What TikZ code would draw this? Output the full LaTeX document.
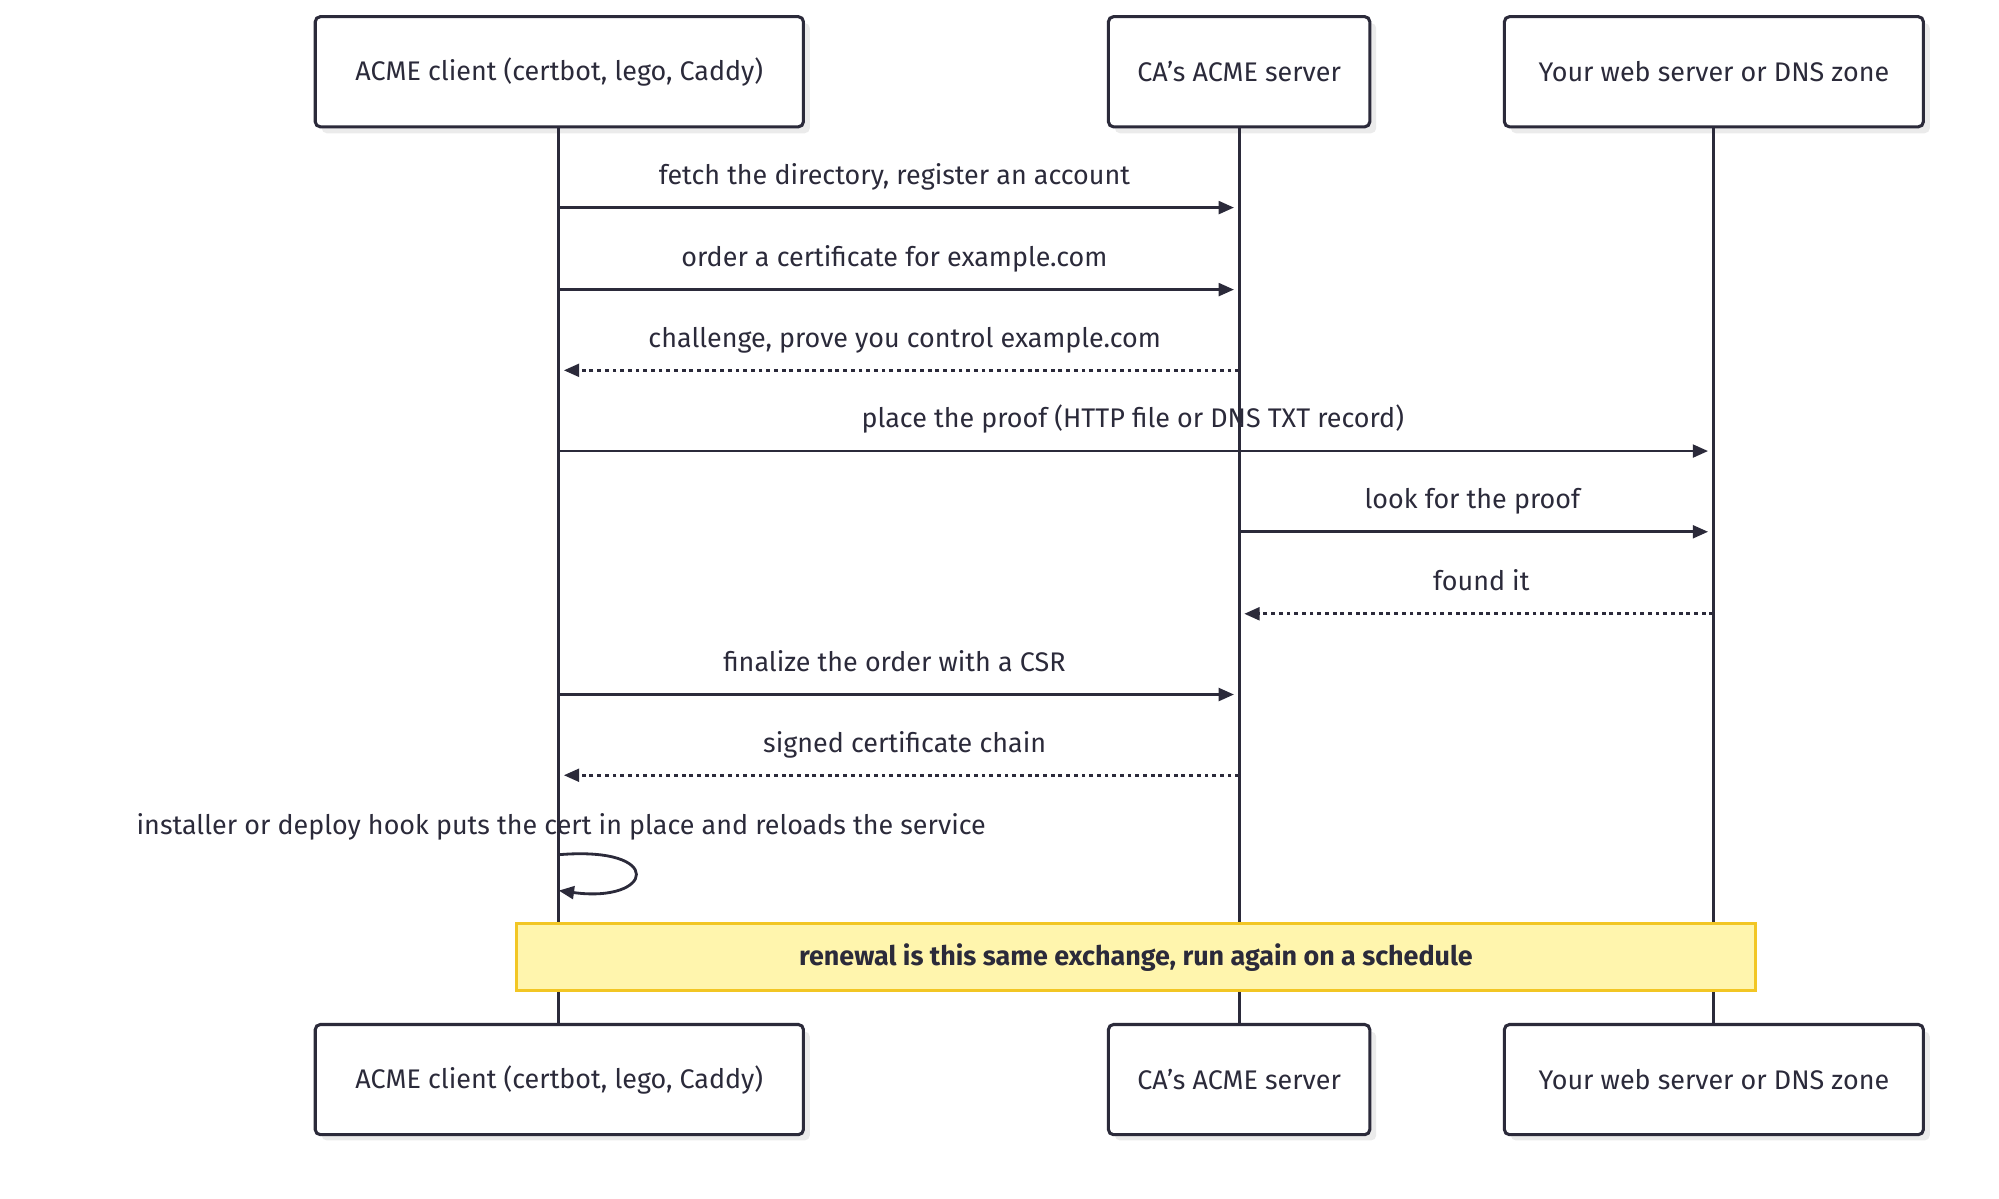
\documentclass[tikz,border=0pt]{standalone}
\usepackage{fontspec}
\setmainfont{Fira Sans}
\usetikzlibrary{arrows.meta}
\definecolor{ink}{HTML}{2B2A3A}
\definecolor{notefill}{HTML}{FFF5AD}
\definecolor{notedraw}{HTML}{F2C624}
\begin{document}
\begin{tikzpicture}[x=0.5pt,y=-0.5pt,
  actor/.style={draw=ink,line width=1.2pt,rounded corners=2pt,fill=white,minimum height=43pt,font=\fontsize{10.5}{12}\selectfont,text=ink,inner sep=0pt},
  life/.style={draw=ink,line width=1.1pt},
  msg/.style={draw=ink,line width=1.1pt,-{Triangle[length=6pt,width=5pt]}},
  ret/.style={msg,dash pattern=on 1.5pt off 1.5pt},
  lbl/.style={font=\fontsize{10.5}{12}\selectfont,text=ink,anchor=base}]
\useasboundingbox (0,0) rectangle (1560,935);
% shadows
\foreach \a/\b/\c/\d in {246/13/627/99,865/13/1069/99,1174/13/1501/99,246/800/627/885,865/800/1069/885,1174/800/1501/885}
  \fill[black!8,rounded corners=2pt] (\a+5,\b+5) rectangle (\c+5,\d+5);
% lifelines
\coordinate (A) at (436,99); \coordinate (A2) at (436,800);
\coordinate (B) at (967,99); \coordinate (B2) at (967,800);
\coordinate (C) at (1337,99); \coordinate (C2) at (1337,800);
\draw[life] (A)--(A2); \draw[life] (B)--(B2); \draw[life] (C)--(C2);
% actors
\node[actor,minimum width=190.5pt] (a1) at (436.5,56) {ACME client (certbot, lego, Caddy)};
\node[actor,minimum width=102pt] (b1) at (967,56) {CA's ACME server};
\node[actor,minimum width=163.5pt] (c1) at (1337.5,56) {Your web server or DNS zone};
\node[actor,minimum width=190.5pt] (a2) at (436.5,842.5) {ACME client (certbot, lego, Caddy)};
\node[actor,minimum width=102pt] (b2) at (967,842.5) {CA's ACME server};
\node[actor,minimum width=163.5pt] (c2) at (1337.5,842.5) {Your web server or DNS zone};
% messages
\coordinate (m1a) at (436,162); \coordinate (m1b) at (963,162);
\draw[msg] (m1a)--(m1b); \node[lbl] (t1) at (698,144) {fetch the directory, register an account};
\coordinate (m2a) at (436,226); \coordinate (m2b) at (963,226);
\draw[msg] (m2a)--(m2b); \node[lbl] (t2) at (698,208) {order a certificate for example.com};
\coordinate (m3a) at (967,289); \coordinate (m3b) at (440,289);
\draw[ret] (m3a)--(m3b); \node[lbl] (t3) at (706,271) {challenge, prove you control example.com};
\coordinate (m4a) at (436,352); \coordinate (m4b) at (1333,352);
\draw[msg] (m4a)--(m4b); \node[lbl] (t4) at (884,334) {place the proof (HTTP file or DNS TXT record)};
\coordinate (m5a) at (967,415); \coordinate (m5b) at (1333,415);
\draw[msg] (m5a)--(m5b); \node[lbl] (t5) at (1149,397) {look for the proof};
\coordinate (m6a) at (1337,479); \coordinate (m6b) at (971,479);
\draw[ret] (m6a)--(m6b); \node[lbl] (t6) at (1156,461) {found it};
\coordinate (m7a) at (436,542); \coordinate (m7b) at (963,542);
\draw[msg] (m7a)--(m7b); \node[lbl] (t7) at (698,524) {finalize the order with a CSR};
\coordinate (m8a) at (967,605); \coordinate (m8b) at (440,605);
\draw[ret] (m8a)--(m8b); \node[lbl] (t8) at (706,587) {signed certificate chain};
% self loop
\coordinate (s1) at (436,667); \coordinate (s2) at (436,695);
\draw[msg] (s1) .. controls (520,660) and (510,705) .. (s2);
\node[lbl] (t9) at (438,651) {installer or deploy hook puts the cert in place and reloads the service};
% note
\node[draw=notedraw,fill=notefill,line width=1.2pt,minimum width=483.5pt,minimum height=26pt,inner sep=0pt,font=\fontsize{10.5}{12}\selectfont\bfseries,text=ink] (note) at (886.5,747) {renewal is this same exchange, run again on a schedule};
\end{tikzpicture}
\end{document}
